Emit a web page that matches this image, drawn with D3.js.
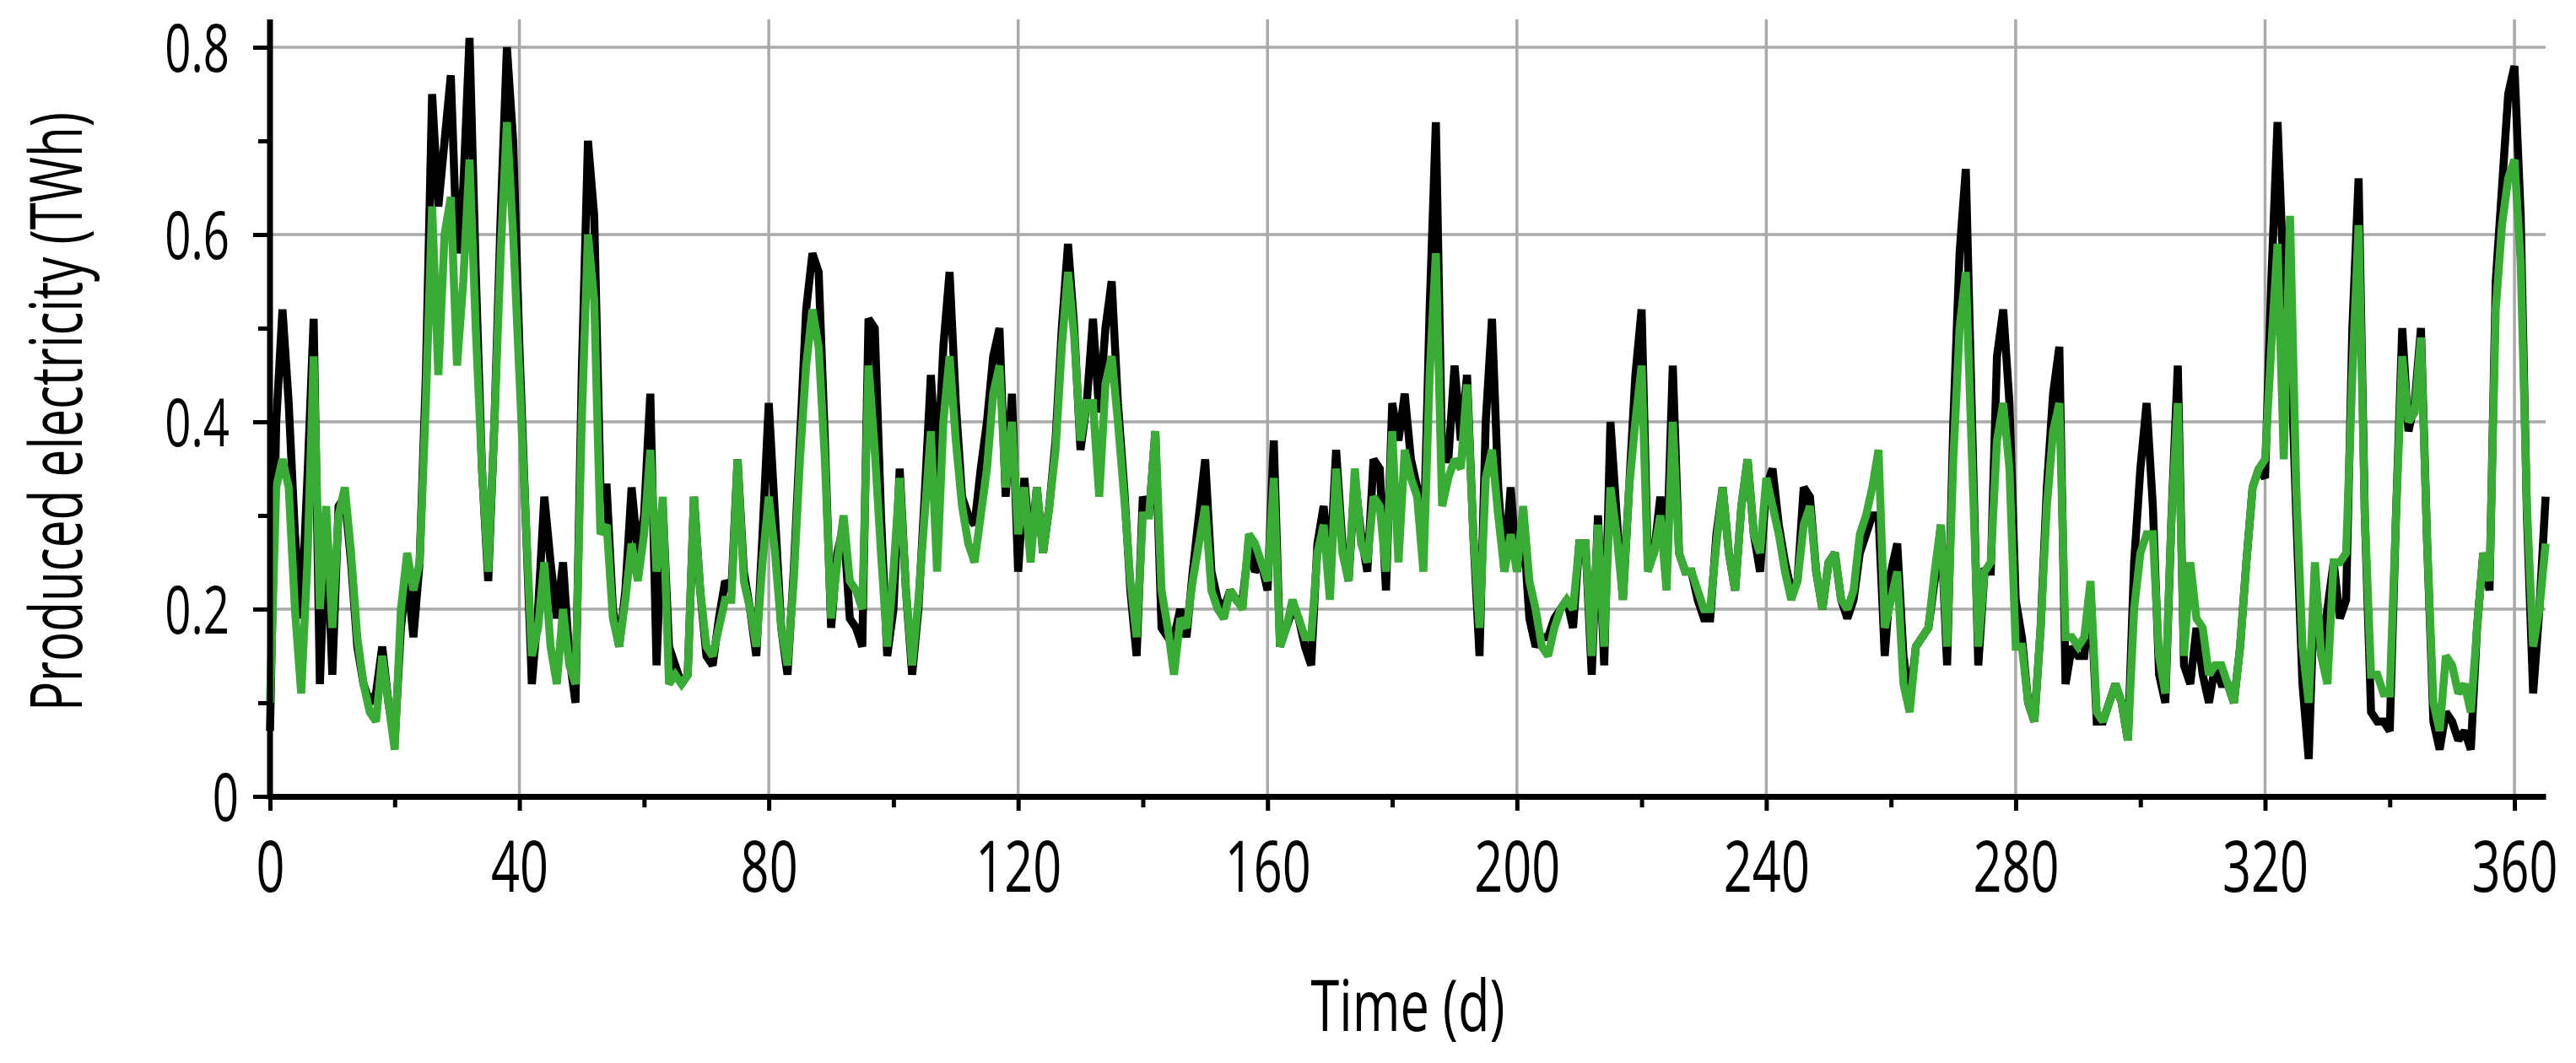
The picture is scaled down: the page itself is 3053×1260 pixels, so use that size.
<!DOCTYPE html>
<html>
<head>
<meta charset="utf-8">
<script src="https://cdn.jsdelivr.net/npm/d3@7"></script>
<style>
  body { margin: 0; background: #fff; }
  text { font-family: "Open Sans", sans-serif; fill: #000; }
</style>
</head>
<body>
<div id="chart"></div>
<script>
// daily produced electricity (TWh), day 0..365
var blackSeries = [
  0.07,0.40,0.52,0.42,0.28,0.19,0.34,0.51,0.12,0.30,
  0.13,0.31,0.32,0.25,0.16,0.12,0.10,0.11,0.16,0.10,
  0.06,0.18,0.24,0.17,0.25,0.45,0.75,0.63,0.70,0.77,
  0.58,0.65,0.81,0.56,0.35,0.23,0.40,0.62,0.80,0.70,
  0.48,0.30,0.12,0.20,0.32,0.25,0.19,0.25,0.15,0.10,
  0.45,0.70,0.62,0.33,0.33,0.20,0.16,0.22,0.33,0.26,
  0.30,0.43,0.14,0.31,0.16,0.14,0.12,0.13,0.32,0.22,
  0.15,0.14,0.19,0.23,0.22,0.36,0.24,0.20,0.15,0.28,
  0.42,0.30,0.18,0.13,0.24,0.38,0.52,0.58,0.56,0.38,
  0.18,0.26,0.29,0.19,0.18,0.16,0.51,0.50,0.30,0.15,
  0.20,0.35,0.22,0.13,0.20,0.32,0.45,0.34,0.48,0.56,
  0.42,0.32,0.30,0.29,0.35,0.40,0.47,0.50,0.32,0.43,
  0.24,0.34,0.26,0.33,0.26,0.31,0.38,0.50,0.59,0.50,
  0.37,0.42,0.51,0.41,0.50,0.55,0.42,0.33,0.22,0.15,
  0.32,0.30,0.39,0.18,0.17,0.17,0.20,0.17,0.24,0.30,
  0.36,0.24,0.21,0.20,0.22,0.21,0.21,0.27,0.24,0.25,
  0.22,0.38,0.16,0.18,0.20,0.19,0.16,0.14,0.27,0.31,
  0.24,0.37,0.27,0.23,0.34,0.28,0.24,0.36,0.35,0.22,
  0.42,0.38,0.43,0.36,0.33,0.26,0.52,0.72,0.36,0.36,
  0.46,0.38,0.45,0.28,0.15,0.40,0.51,0.33,0.24,0.33,
  0.24,0.29,0.19,0.16,0.17,0.17,0.19,0.20,0.21,0.18,
  0.27,0.27,0.13,0.30,0.14,0.40,0.30,0.21,0.33,0.45,
  0.52,0.25,0.26,0.32,0.25,0.46,0.26,0.24,0.24,0.21,
  0.19,0.19,0.28,0.33,0.26,0.22,0.31,0.36,0.28,0.24,
  0.33,0.35,0.29,0.25,0.22,0.23,0.33,0.32,0.24,0.20,
  0.25,0.26,0.21,0.19,0.21,0.26,0.28,0.30,0.30,0.15,
  0.24,0.27,0.15,0.10,0.16,0.17,0.18,0.23,0.29,0.14,
  0.40,0.58,0.67,0.40,0.14,0.24,0.24,0.47,0.52,0.42,
  0.21,0.17,0.10,0.08,0.18,0.33,0.43,0.48,0.12,0.16,
  0.15,0.15,0.22,0.08,0.08,0.10,0.12,0.10,0.06,0.25,
  0.35,0.42,0.31,0.13,0.10,0.30,0.46,0.14,0.12,0.18,
  0.13,0.10,0.14,0.12,0.12,0.10,0.16,0.25,0.33,0.35,
  0.34,0.55,0.72,0.55,0.50,0.30,0.12,0.04,0.24,0.15,
  0.20,0.25,0.19,0.21,0.50,0.66,0.30,0.09,0.08,0.08,
  0.07,0.30,0.50,0.39,0.42,0.50,0.27,0.08,0.05,0.09,
  0.08,0.06,0.07,0.05,0.18,0.26,0.22,0.55,0.65,0.75,
  0.78,0.62,0.30,0.11,0.20,0.32
];

var greenSeries = [
  0.10,0.33,0.36,0.33,0.20,0.11,0.25,0.47,0.20,0.31,
  0.18,0.30,0.33,0.26,0.17,0.12,0.09,0.08,0.15,0.10,
  0.05,0.20,0.26,0.22,0.25,0.42,0.63,0.45,0.60,0.64,
  0.46,0.55,0.68,0.50,0.35,0.24,0.40,0.58,0.72,0.60,
  0.45,0.30,0.15,0.18,0.25,0.16,0.12,0.20,0.14,0.12,
  0.40,0.60,0.53,0.28,0.29,0.19,0.16,0.21,0.27,0.23,
  0.28,0.37,0.24,0.32,0.12,0.13,0.12,0.13,0.32,0.22,
  0.16,0.15,0.18,0.21,0.21,0.36,0.23,0.20,0.16,0.25,
  0.32,0.26,0.18,0.14,0.23,0.36,0.46,0.52,0.48,0.36,
  0.19,0.25,0.30,0.23,0.22,0.20,0.46,0.37,0.26,0.16,
  0.24,0.34,0.22,0.14,0.21,0.30,0.39,0.24,0.40,0.47,
  0.38,0.31,0.27,0.25,0.30,0.35,0.43,0.46,0.33,0.40,
  0.28,0.33,0.25,0.33,0.26,0.31,0.37,0.48,0.56,0.49,
  0.38,0.42,0.42,0.32,0.44,0.47,0.40,0.32,0.23,0.17,
  0.30,0.30,0.39,0.22,0.18,0.13,0.19,0.18,0.23,0.27,
  0.31,0.22,0.20,0.19,0.22,0.21,0.20,0.28,0.27,0.25,
  0.23,0.34,0.16,0.18,0.21,0.19,0.17,0.17,0.26,0.29,
  0.21,0.35,0.26,0.23,0.35,0.27,0.25,0.32,0.31,0.24,
  0.39,0.25,0.37,0.34,0.32,0.24,0.45,0.58,0.31,0.34,
  0.36,0.35,0.44,0.28,0.18,0.34,0.37,0.30,0.24,0.28,
  0.24,0.31,0.23,0.20,0.16,0.15,0.18,0.20,0.21,0.20,
  0.27,0.27,0.15,0.29,0.16,0.33,0.28,0.21,0.33,0.40,
  0.46,0.24,0.26,0.30,0.22,0.40,0.26,0.24,0.24,0.22,
  0.20,0.20,0.27,0.33,0.26,0.22,0.31,0.36,0.28,0.26,
  0.34,0.31,0.28,0.24,0.21,0.23,0.29,0.31,0.24,0.20,
  0.25,0.26,0.21,0.20,0.22,0.28,0.30,0.33,0.37,0.18,
  0.21,0.24,0.12,0.09,0.16,0.17,0.18,0.24,0.29,0.16,
  0.36,0.50,0.56,0.36,0.16,0.24,0.25,0.38,0.42,0.35,
  0.16,0.16,0.10,0.08,0.18,0.31,0.39,0.42,0.17,0.17,
  0.16,0.17,0.23,0.09,0.08,0.10,0.12,0.10,0.06,0.20,
  0.26,0.28,0.28,0.15,0.11,0.30,0.42,0.15,0.25,0.19,
  0.18,0.13,0.14,0.14,0.12,0.10,0.16,0.25,0.33,0.35,
  0.36,0.48,0.59,0.36,0.62,0.33,0.16,0.10,0.25,0.15,
  0.12,0.25,0.25,0.26,0.45,0.61,0.30,0.13,0.13,0.11,
  0.11,0.30,0.47,0.40,0.41,0.49,0.27,0.10,0.07,0.15,
  0.14,0.11,0.12,0.09,0.18,0.26,0.23,0.52,0.61,0.66,
  0.68,0.57,0.31,0.16,0.20,0.27
];

var xTickValues = [0, 20, 40, 60, 80, 100, 120, 140, 160, 180, 200, 220, 240, 260, 280, 300, 320, 340, 360];
var xLabelValues = [0, 40, 80, 120, 160, 200, 240, 280, 320, 360];
var yTickValues = [0, 0.1, 0.2, 0.3, 0.4, 0.5, 0.6, 0.7, 0.8];
var yLabelValues = [0, 0.2, 0.4, 0.6, 0.8];

var svgWidth = 3053;
var svgHeight = 1260;

var margin = {
  top: 56,
  right: 36,
  bottom: 316,
  left: 320
};

var width = svgWidth - margin.left - margin.right;
var height = svgHeight - margin.top - margin.bottom;
var axisOverhang = 33;   // axis + vertical grid run a bit above 0.8
var squeeze = 0.7;       // the original font is a condensed face

var svg = d3.select("#chart")
  .append("svg")
  .attr("width", svgWidth)
  .attr("height", svgHeight);

var chartGroup = svg.append("g")
  .attr("transform", `translate(${margin.left}, ${margin.top})`);

var xLinearScale = d3.scaleLinear()
  .domain([0, 365])
  .range([0, width]);

var yLinearScale = d3.scaleLinear()
  .domain([0, 0.8])
  .range([height, 0]);

// grid
chartGroup.append("g")
  .selectAll("line")
  .data(yLabelValues.filter(d => d > 0))
  .enter()
  .append("line")
  .attr("x1", 0)
  .attr("x2", width)
  .attr("y1", d => yLinearScale(d))
  .attr("y2", d => yLinearScale(d))
  .attr("stroke", "#a9a9a9")
  .attr("stroke-width", 3.5);

chartGroup.append("g")
  .selectAll("line")
  .data(xLabelValues.filter(d => d > 0))
  .enter()
  .append("line")
  .attr("x1", d => xLinearScale(d))
  .attr("x2", d => xLinearScale(d))
  .attr("y1", height)
  .attr("y2", -axisOverhang)
  .attr("stroke", "#a9a9a9")
  .attr("stroke-width", 3.5);

// lines
var line = d3.line()
  .x((d, i) => xLinearScale(i))
  .y(d => yLinearScale(d));

chartGroup.append("path")
  .datum(blackSeries)
  .attr("d", line)
  .attr("fill", "none")
  .attr("stroke", "#000")
  .attr("stroke-width", 9.5)
  .attr("stroke-linejoin", "miter")
  .attr("stroke-miterlimit", 2);

chartGroup.append("path")
  .datum(greenSeries)
  .attr("d", line)
  .attr("fill", "none")
  .attr("stroke", "#3bab37")
  .attr("stroke-width", 9.5)
  .attr("stroke-linejoin", "miter")
  .attr("stroke-miterlimit", 2);

// x axis
var bottomAxis = d3.axisBottom(xLinearScale)
  .tickValues(xTickValues)
  .tickSizeOuter(0)
  .tickSizeInner(17)
  .tickPadding(36)
  .tickFormat(d => xLabelValues.indexOf(d) >= 0 ? d : "");

var xAxis = chartGroup.append("g")
  .attr("transform", `translate(0, ${height})`)
  .call(bottomAxis);

xAxis.select(".domain")
  .attr("stroke", "#000")
  .attr("stroke-width", 7);

xAxis.selectAll(".tick line")
  .attr("stroke", "#000")
  .attr("stroke-width", 5)
  .attr("y2", d => xLabelValues.indexOf(d) >= 0 ? 17 : 13);

// condensed look: squeeze each label around its anchor
xAxis.selectAll(".tick text")
  .attr("font-size", 85)
  .attr("font-family", "Open Sans")
  .attr("transform", `scale(${squeeze}, 1)`);

// y axis
var leftAxis = d3.axisLeft(yLinearScale)
  .tickValues(yTickValues)
  .tickSizeOuter(0)
  .tickSizeInner(20)
  .tickPadding(28)
  .tickFormat(function(d) {
    var k = Math.round(d * 10);
    if (k % 2 !== 0) return "";
    return k === 0 ? "0" : d3.format(".1f")(d);
  });

var yAxis = chartGroup.append("g")
  .call(leftAxis);

yAxis.select(".domain")
  .attr("stroke", "#000")
  .attr("stroke-width", 7)
  .attr("d", `M0,${height + 3.5}V${-axisOverhang}`);

yAxis.selectAll(".tick line")
  .attr("stroke", "#000")
  .attr("stroke-width", 5)
  .attr("x2", d => Math.round(d * 10) % 2 === 0 ? -20 : -14);

yAxis.selectAll(".tick text")
  .attr("font-size", 78)
  .attr("font-family", "Open Sans")
  .attr("dy", "0.36em")
  .attr("x", d => (d === 0 ? -37 : -48) / squeeze)
  .attr("transform", `scale(${squeeze}, 1)`);

// axis titles
svg.append("text")
  .attr("transform", `translate(97, ${margin.top + height / 2 - 12}) rotate(-90) scale(0.68, 1)`)
  .attr("text-anchor", "middle")
  .attr("font-size", 86)
  .text("Produced electricity (TWh)");

svg.append("text")
  .attr("transform", `translate(${margin.left + width / 2}, 1222) scale(0.73, 1)`)
  .attr("text-anchor", "middle")
  .attr("font-size", 84)
  .text("Time (d)");
</script>
</body>
</html>
